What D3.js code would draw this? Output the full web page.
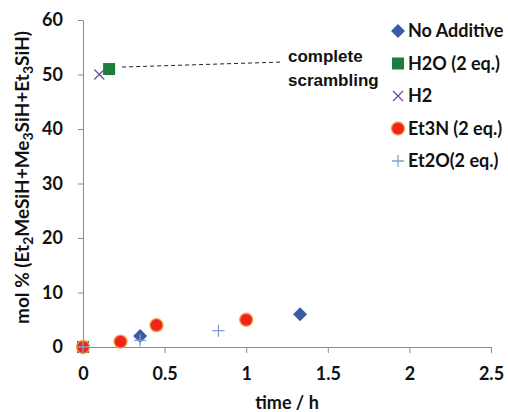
<!DOCTYPE html>
<html>
<head>
<meta charset="utf-8">
<script src="https://cdn.jsdelivr.net/npm/d3@7"></script>
<style>
  body { margin: 0; background: #fff; }
  text { font-family: Lato, "Open Sans", sans-serif; font-weight: bold; fill: #111; }
</style>
</head>
<body>
<div id="chart"></div>
<script>
// data
const seriesNames = ["No Additive", "H2O (2 eq.)", "H2", "Et3N (2 eq.)", "Et2O(2 eq.)"];
const noAdditive = [[0, 0], [0.35, 2], [1.33, 6]];
const water = [[0, 0], [0.16, 51]];
const hydrogen = [[0, 0], [0.1, 50]];
const et3n = [[0, 0], [0.23, 1], [0.45, 4], [1.0, 5]];
const et2o = [[0, 0], [0.35, 1.2], [0.83, 3]];
const xTicks = [0, 0.5, 1, 1.5, 2, 2.5];
const yTicks = [0, 10, 20, 30, 40, 50, 60];

const width = 508, height = 412;
const margin = { top: 20, bottom: 65, right: 17, left: 83 };

const svg = d3.select("#chart").append("svg")
    .attr("width", width).attr("height", height);

const x = d3.scaleLinear().domain([0, 2.5]).range([margin.left, width - margin.right]);
const y = d3.scaleLinear().domain([0, 60]).range([height - margin.bottom, margin.top]);

// axes
const ejeX = svg.append("g")
    .attr("transform", `translate(0, ${y(0)})`)
    .call(d3.axisBottom(x).tickValues(xTicks).tickSize(6).tickPadding(14)
        .tickFormat(d => d3.format("")(d)));
const ejeY = svg.append("g")
    .attr("transform", `translate(${x(0)}, 0)`)
    .call(d3.axisLeft(y).tickValues(yTicks).tickSize(5).tickPadding(15));

[ejeX, ejeY].forEach(g => {
    g.select(".domain").attr("stroke", "#8c8c8c");
    g.selectAll(".tick line").attr("stroke", "#8c8c8c");
    g.selectAll(".tick text")
        .attr("fill", "#111")
        .style("font-size", "18px")
        .style("font-family", "Lato, sans-serif")
        .style("font-weight", "bold");
});

// axis titles
svg.append("text")
    .attr("x", 287).attr("y", 409)
    .attr("text-anchor", "middle")
    .style("font-size", "18px")
    .text("time / h");

const yTitle = svg.append("text")
    .attr("transform", `translate(29, ${(y(0) + y(60)) / 2 - 6}) rotate(-90)`)
    .attr("text-anchor", "middle")
    .style("font-size", "19px");
yTitle.append("tspan").text("mol % (Et");
yTitle.append("tspan").attr("dy", 4).style("font-size", "14px").text("2");
yTitle.append("tspan").attr("dy", -4).text("MeSiH+Me");
yTitle.append("tspan").attr("dy", 4).style("font-size", "14px").text("3");
yTitle.append("tspan").attr("dy", -4).text("SiH+Et");
yTitle.append("tspan").attr("dy", 4).style("font-size", "14px").text("3");
yTitle.append("tspan").attr("dy", -4).text("SiH)");

// marker drawers
const markers = [
    (g, cx, cy) => g.append("path").attr("d", `M${cx},${cy - 7}L${cx + 7},${cy}L${cx},${cy + 7}L${cx - 7},${cy}Z`)
        .attr("fill", "#3a5ba6"),
    (g, cx, cy) => g.append("rect").attr("x", cx - 6).attr("y", cy - 6).attr("width", 12).attr("height", 12)
        .attr("fill", "#1d7d3c"),
    (g, cx, cy) => g.append("path").attr("d", `M${cx - 5},${cy - 5}L${cx + 5},${cy + 5}M${cx - 5},${cy + 5}L${cx + 5},${cy - 5}`)
        .attr("stroke", "#6b4f9e").attr("stroke-width", 1.3).attr("fill", "none"),
    (g, cx, cy) => g.append("circle").attr("cx", cx).attr("cy", cy).attr("r", 6.5)
        .attr("fill", "#ee2420").attr("stroke", "#f3a33a").attr("stroke-width", 1.3),
    (g, cx, cy) => g.append("path").attr("d", `M${cx - 6},${cy}L${cx + 6},${cy}M${cx},${cy - 6}L${cx},${cy + 6}`)
        .attr("stroke", "#7e9fd3").attr("stroke-width", 1.3).attr("fill", "none")
];

const allSeries = [noAdditive, water, hydrogen, et3n, et2o];
const plot = svg.append("g");
allSeries.forEach((data, i) => {
    data.forEach(d => markers[i](plot, x(d[0]), y(d[1])));
});

// annotation
svg.append("line")
    .attr("x1", x(water[1][0]) + 13).attr("y1", y(water[1][1]) - 2)
    .attr("x2", 283).attr("y2", 62)
    .attr("stroke", "#222").attr("stroke-width", 1).attr("stroke-dasharray", "4,3");
svg.append("text").attr("x", 288).attr("y", 62)
    .style("font-size", "17px").style("font-family", "'Liberation Sans', Arial, sans-serif")
    .text("complete");
svg.append("text").attr("x", 288).attr("y", 86)
    .style("font-size", "17px").style("font-family", "'Liberation Sans', Arial, sans-serif")
    .text("scrambling");

// legend
const legend = svg.append("g");
seriesNames.forEach((name, i) => {
    const ly = 31 + i * 32.5;
    markers[i](legend, 398, ly);
    legend.append("text").attr("x", 408).attr("y", ly + 6)
        .style("font-size", "18px")
        .text(name);
});
</script>
</body>
</html>
